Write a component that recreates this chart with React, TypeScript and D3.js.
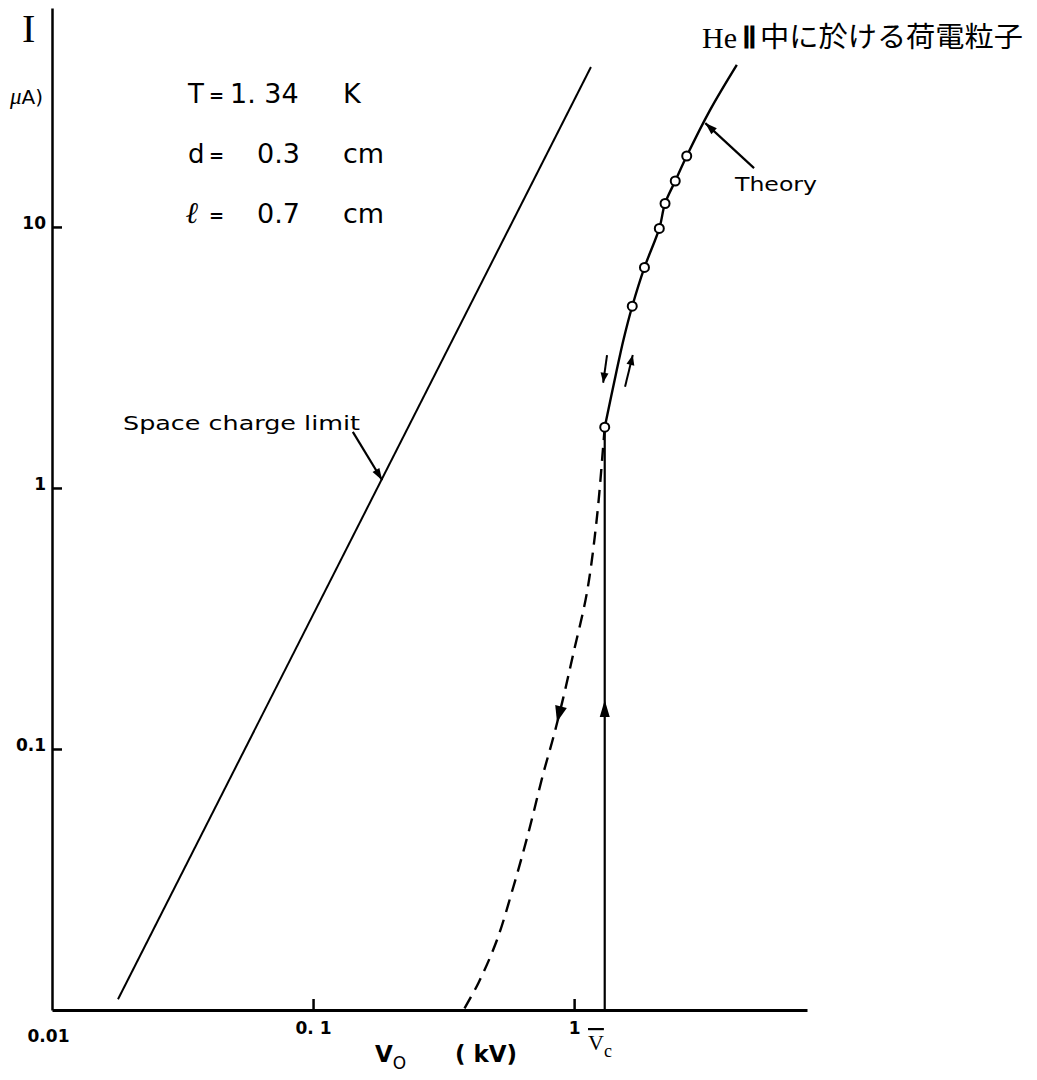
import React, { useRef, useEffect } from "react";
import * as d3 from "d3";

// values: V0 in kV, I in μA
const spaceChargeV = [0.0179, 1.16];
const spaceChargeI = [0.011, 41];

const theoryV = [1.31, 1.448, 1.545, 1.67, 1.86, 2.12, 2.23, 2.44, 2.7, 3.32, 4.2];
const theoryI = [1.71, 2.75, 3.69, 4.97, 7.0, 9.87, 12.3, 15.0, 18.7, 28.1, 41.8];

const measuredV = [1.31, 1.67, 1.86, 2.12, 2.23, 2.44, 2.7];
const measuredI = [1.71, 4.97, 7.0, 9.87, 12.3, 15.0, 18.7];

const fallingV = [1.31, 1.295, 1.22, 1.119, 0.994, 0.91, 0.833, 0.763, 0.668, 0.585, 0.506, 0.43, 0.377];
const fallingI = [1.71, 1.48, 0.754, 0.396, 0.233, 0.158, 0.111, 0.081, 0.0477, 0.0296, 0.0185, 0.0127, 0.01];

const Vc = 1.31;

const xTicks = [0.01, 0.1, 1];
const xTickLabels = ["0.01", "0. 1", "1"];
const yTicks = [0.1, 1, 10];
const yTickLabels = ["0.1", "1", "10"];

const params = [
  { name: "T", value: "1. 34", unit: "K" },
  { name: "d", value: "0.3", unit: "cm" },
  { name: "ℓ", value: "0.7", unit: "cm" },
];

const W = 1037, H = 1080;

function Chart() {
  const ref = useRef(null);

  useEffect(() => {
    const svg = d3.select(ref.current);
    svg.selectAll("*").remove();
    draw(svg);
  }, []);

  const draw = (svg) => {
    const x = d3.scaleLog().domain([0.01, 7.8]).range([52, 807]);
    const y = d3.scaleLog().domain([0.01, 69]).range([1010, 8]);
    const pt = (v, i) => [x(v), y(i)];

    svg.append("rect").attr("width", W).attr("height", H).attr("fill", "#fff");

    // axes
    const xAxis = svg.append("g")
      .attr("transform", "translate(0,1010)")
      .call(d3.axisBottom(x).tickValues(xTicks).tickSizeInner(-11).tickSizeOuter(0).tickPadding(12)
        .tickFormat((d, i) => xTickLabels[i]));
    xAxis.select(".domain").attr("stroke-width", 3);
    xAxis.selectAll(".tick line").attr("stroke-width", 2.5);
    xAxis.selectAll(".tick text")
      .attr("font-family", "DejaVu Sans").attr("font-weight", "bold").attr("font-size", 17).attr("fill", "#000");
    xAxis.selectAll(".tick").filter((d) => d === 0.01).select("line").remove();
    xAxis.selectAll(".tick").filter((d) => d === 0.01).select("text").attr("x", -4).attr("dy", "1.15em");

    const yAxis = svg.append("g")
      .attr("transform", "translate(52,0)")
      .call(d3.axisLeft(y).tickValues(yTicks).tickSizeInner(-10).tickSizeOuter(0).tickPadding(6)
        .tickFormat((d, i) => yTickLabels[i]));
    yAxis.select(".domain").attr("stroke-width", 2.5);
    yAxis.selectAll(".tick line").attr("stroke-width", 2.5);
    yAxis.selectAll(".tick text")
      .attr("font-family", "DejaVu Sans").attr("font-weight", "bold").attr("font-size", 17).attr("fill", "#000")
      .attr("dy", "0.1em");

    const line = d3.line().x((d) => x(d[0])).y((d) => y(d[1]));
    const curve = d3.line().x((d) => x(d[0])).y((d) => y(d[1])).curve(d3.curveCatmullRom.alpha(0.5));
    const g = svg.append("g").attr("fill", "none").attr("stroke", "#000");

    // space charge limit
    g.append("path").attr("d", line(spaceChargeV.map((v, i) => [v, spaceChargeI[i]]))).attr("stroke-width", 2);

    // theory
    g.append("path").attr("d", curve(theoryV.map((v, i) => [v, theoryI[i]]))).attr("stroke-width", 2.4);

    // vertical rise at Vc
    g.append("path").attr("d", line([[Vc, 0.01], [Vc, measuredI[0]]])).attr("stroke-width", 2.2);

    // falling branch (dashed)
    g.append("path").attr("d", curve(fallingV.map((v, i) => [v, fallingI[i]])))
      .attr("stroke-width", 2.4).attr("stroke-dasharray", "13,8");

    // measured points
    svg.append("g").selectAll("circle")
      .data(measuredV.map((v, i) => [v, measuredI[i]]))
      .join("circle")
      .attr("cx", (d) => x(d[0])).attr("cy", (d) => y(d[1])).attr("r", 4.5)
      .attr("fill", "#fff").attr("stroke", "#000").attr("stroke-width", 2);

    // arrow heads
    const head = (tip, from, len, half) => {
      const a = Math.atan2(tip[1] - from[1], tip[0] - from[0]);
      const bx = tip[0] - len * Math.cos(a), by = tip[1] - len * Math.sin(a);
      const px = -Math.sin(a) * half, py = Math.cos(a) * half;
      svg.append("path")
        .attr("d", `M${tip[0]},${tip[1]}L${bx + px},${by + py}L${bx - px},${by - py}Z`)
        .attr("fill", "#000");
    };
    const arrow = (from, tip, len, half, sw) => {
      svg.append("path").attr("d", `M${from[0]},${from[1]}L${tip[0]},${tip[1]}`)
        .attr("stroke", "#000").attr("stroke-width", sw);
      head(tip, from, len, half);
    };

    head(pt(Vc, 0.154), pt(Vc, 0.1), 17, 5);
    head(pt(0.86, 0.127), pt(0.91, 0.158), 16, 6);
    arrow(pt(1.337, 3.23), pt(1.292, 2.53), 10, 4, 2);
    arrow(pt(1.567, 2.44), pt(1.678, 3.23), 10, 4, 2);
    arrow(pt(4.89, 16.8), pt(3.18, 25.0), 12, 4, 2.2);
    arrow(pt(0.142, 1.64), pt(0.184, 1.07), 12, 4, 2.2);

    // labels
    const txt = (tx, ty, s, size, family, extra = {}) => {
      const t = svg.append("text").attr("x", tx).attr("y", ty).attr("font-size", size)
        .attr("font-family", family).attr("fill", "#000").text(s);
      Object.entries(extra).forEach(([k, v]) => t.attr(k, v));
      return t;
    };
    const sans = "DejaVu Sans";
    txt(123, 430, "Space charge limit", 20, sans, { textLength: 237, lengthAdjust: "spacingAndGlyphs" });
    txt(735, 191, "Theory", 20, sans, { textLength: 82, lengthAdjust: "spacingAndGlyphs" });

    params.forEach((p, i) => {
      const by = 103 + i * 60;
      const isEll = p.name === "ℓ";
      txt(isEll ? 186 : 188, by, p.name, isEll ? 30 : 26, isEll ? "Liberation Serif" : sans,
        isEll ? { "font-style": "italic", "font-weight": "bold" } : {});
      txt(209, by - 1, "=", 18, sans, { "font-weight": "bold" });
      txt(i === 0 ? 230 : 257, by, p.value, 27, sans);
      txt(343, by, p.unit, 27, sans);
    });

    txt(22, 42, "I", 40, "Liberation Serif");
    const ua = txt(10, 104, "μ", 23, "Liberation Serif", { "font-style": "italic" });
    ua.append("tspan").attr("font-style", "normal").attr("font-family", sans).attr("font-size", 20).text("A)");

    txt(702, 48, "He", 30, "Liberation Serif");
    txt(742, 48, "Ⅱ", 30, "Liberation Serif", { "font-weight": "bold" });
    txt(760, 47, "中に於ける荷電粒子", 28, "Noto Sans CJK JP", { textLength: 263, lengthAdjust: "spacingAndGlyphs" });

    const xt = txt(375, 1062, "V", 23, sans, { "font-weight": "bold" });
    xt.append("tspan").attr("font-size", 17).attr("font-weight", "normal").attr("dy", 7).text("O");
    txt(455, 1062, "( kV)", 23, sans, { "font-weight": "bold" });

    const vc = svg.append("text").attr("x", 588).attr("y", 1050).attr("font-family", "Liberation Serif").attr("fill", "#000");
    vc.append("tspan").attr("font-size", 22).attr("text-decoration", "overline").text("V");
    vc.append("tspan").attr("font-size", 18).attr("dy", 7).text("c");
  };

  return <svg ref={ref} width={W} height={H} style={{ display: "block" }} />;
}

export default function App() {
  return (
    <div style={{ position: "absolute", left: 0, top: 0, background: "#fff" }}>
      <Chart />
    </div>
  );
}
